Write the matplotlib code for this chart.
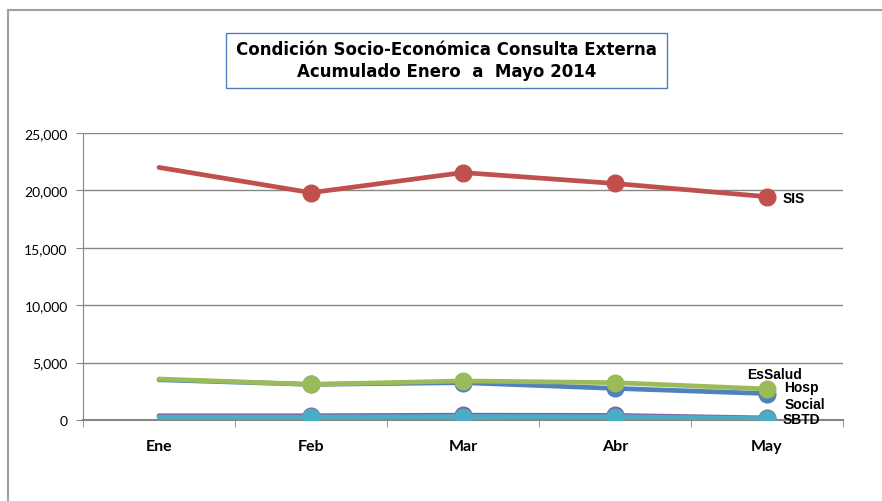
import matplotlib.pyplot as plt
from matplotlib.patches import Rectangle
from matplotlib.lines import Line2D

months = ["Ene", "Feb", "Mar", "Abr", "May"]
sis = [22000, 19800, 21550, 20600, 19450]
hosp = [3500, 3100, 3250, 2750, 2300]
essalud = [3570, 3100, 3400, 3250, 2700]
social = [370, 370, 420, 400, 180]
sbtd = [250, 250, 300, 280, 120]

yticks = [0, 5000, 10000, 15000, 20000, 25000]

fig = plt.figure(figsize=(8.82, 5.02), dpi=100)
ax = fig.add_axes([0.0941, 0.1614, 0.8617, 0.5717])

x = list(range(len(months)))

# series: (values, color, label, label offset in points)
series = [
    (sis, "#C0504D", "SIS", (11, -1)),
    (hosp, "#4F81BD", "Hosp", (12, 5)),
    (essalud, "#9BBB59", "EsSalud", (-14, 11)),
    (social, "#8064A2", "Social", (13, 10)),
    (sbtd, "#4BACC6", "SBTD", (11, 0)),
]

for vals, col, name, off in series:
    ax.plot(x, vals, color=col, lw=3.4, marker="o", ms=12,
            markevery=[1, 2, 3, 4], solid_capstyle="round", zorder=3)
    ax.annotate(name, (x[-1], vals[-1]), xytext=off, textcoords="offset points",
                fontsize=10, fontweight="bold", family="Liberation Sans",
                va="center", ha="left", zorder=5)

ax.set_xlim(-0.5, 4.5)
ax.set_ylim(0, 25000)
ax.set_yticks(yticks)
ax.set_yticklabels([f"{v:,}" for v in yticks], family="Lato", fontsize=10)
ax.set_xticks(x)
ax.set_xticklabels(months, family="Lato", fontsize=11.5, fontweight="bold")
ax.set_xticks([i - 0.5 for i in range(len(months) + 1)], minor=True)
ax.tick_params(axis="x", which="major", length=0, pad=14)
ax.tick_params(axis="x", which="minor", length=5, color="#868686")
ax.tick_params(axis="y", length=5, color="#868686", pad=6)

ax.grid(axis="y", color="#868686", lw=1)
ax.set_axisbelow(True)
for s in ["top", "right"]:
    ax.spines[s].set_visible(False)
ax.spines["left"].set_color("#868686")
ax.spines["bottom"].set_color("#868686")
ax.spines["bottom"].set_linewidth(1.5)

# title box
fig.patches.append(Rectangle((0.2562, 0.8227), 0.5, 0.1096, transform=fig.transFigure,
                             fill=False, edgecolor="#4F81BD", lw=1))
fig.text(0.506, 0.878, "Condición Socio-Económica Consulta Externa\nAcumulado Enero  a  Mayo 2014",
         ha="center", va="center", fontsize=12, fontweight="bold",
         family="DejaVu Sans", linespacing=1.25)

# chart area border (top and left)
fig.add_artist(Line2D([0.009, 1.0], [0.978, 0.978], transform=fig.transFigure,
                      color="#A0A0A0", lw=1.5))
fig.add_artist(Line2D([0.009, 0.009], [0.0, 0.978], transform=fig.transFigure,
                      color="#A0A0A0", lw=1.5))

fig.savefig("out.png", dpi=100)
